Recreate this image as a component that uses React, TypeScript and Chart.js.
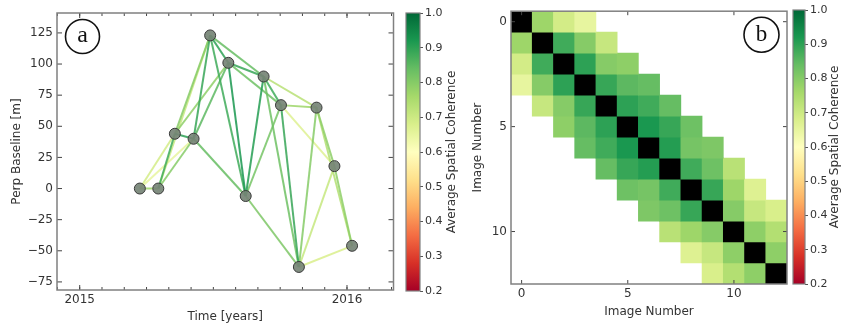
import React, { useEffect, useRef } from 'react';
import { Chart, registerables } from 'chart.js';

Chart.register(...registerables);

// ---------------- data ----------------
const imageDates = [2015.225, 2015.294, 2015.356, 2015.426, 2015.488, 2015.556, 2015.621, 2015.688, 2015.753, 2015.82, 2015.886, 2015.953, 2016.019];
const perpBaseline = [0, 0, 44, 40, 123, 101, -6, 90, 67, -63, 65, 18, -46];
// coherence between image i and image i+1, i+2, i+3
const coherenceLag1 = [0.77, 0.88, 0.9, 0.89, 0.9, 0.92, 0.91, 0.88, 0.89, 0.8, 0.79, 0.79];
const coherenceLag2 = [0.69, 0.8, 0.8, 0.85, 0.88, 0.89, 0.82, 0.83, 0.77, 0.71, 0.74];
const coherenceLag3 = [0.65, 0.71, 0.79, 0.84, 0.84, 0.83, 0.81, 0.73, 0.67, 0.68];
const timeTicks = [2015, 2016];
const baselineTicks = [-75, -50, -25, 0, 25, 50, 75, 100, 125];
const imageTicks = [0, 5, 10];
const coherenceTicks = [0.2, 0.3, 0.4, 0.5, 0.6, 0.7, 0.8, 0.9, 1.0];
const coherenceMin = 0.2;
const coherenceMax = 1.0;
const monthsPerYear = 12;

const RDYLGN = ['#a50026', '#d73027', '#f46d43', '#fdae61', '#fee08b', '#ffffbf', '#d9ef8b', '#a6d96a', '#66bd63', '#1a9850', '#006837'];

function hexRgb(h: string) {
  return [parseInt(h.slice(1, 3), 16), parseInt(h.slice(3, 5), 16), parseInt(h.slice(5, 7), 16)];
}
function cmap(v: number, alpha = 1) {
  const t = Math.min(1, Math.max(0, (v - coherenceMin) / (coherenceMax - coherenceMin)));
  const p = t * (RDYLGN.length - 1);
  const i = Math.min(RDYLGN.length - 2, Math.floor(p));
  const f = p - i;
  const a = hexRgb(RDYLGN[i]);
  const b = hexRgb(RDYLGN[i + 1]);
  const c = a.map((x, k) => Math.round(x + (b[k] - x) * f));
  return `rgba(${c[0]},${c[1]},${c[2]},${alpha})`;
}
function pairs() {
  const out: { i: number; j: number; v: number }[] = [];
  [coherenceLag1, coherenceLag2, coherenceLag3].forEach((arr, k) =>
    arr.forEach((v, i) => out.push({ i, j: i + k + 1, v }))
  );
  return out;
}
function pairValue(r: number, c: number): number | null {
  if (r === c) return 1;
  const i = Math.min(r, c);
  const lag = Math.abs(r - c);
  const arr = [coherenceLag1, coherenceLag2, coherenceLag3][lag - 1];
  if (!arr) return null;
  return arr[i] ?? null;
}

const FONT = "'DejaVu Sans', Arial, sans-serif";
const TEXT = '#333333';
const minus = (v: number) => String(v).replace('-', '\u2212');

const framePlugin = {
  id: 'frame',
  afterDraw(chart: any, _args: any, o: any) {
    if (!o || !o.enabled) return;
    const { ctx, chartArea: a } = chart;
    ctx.save();
    const seg = (x1: number, y1: number, x2: number, y2: number) => {
      ctx.beginPath();
      ctx.moveTo(x1, y1);
      ctx.lineTo(x2, y2);
      ctx.stroke();
    };
    if (o.inwardTicks) {
      ctx.strokeStyle = '#444';
      ctx.lineWidth = 1;
      const xs = chart.scales.x;
      const ys = chart.scales.y;
      for (const t of xs.ticks) {
        const p = xs.getPixelForValue(t.value);
        seg(p, a.bottom, p, a.bottom - o.major);
        seg(p, a.top, p, a.top + o.major);
      }
      if (o.minorStepX) {
        for (let k = Math.ceil(xs.min / o.minorStepX); k * o.minorStepX <= xs.max; k++) {
          const p = xs.getPixelForValue(k * o.minorStepX);
          seg(p, a.bottom, p, a.bottom - o.minor);
          seg(p, a.top, p, a.top + o.minor);
        }
      }
      for (const t of ys.ticks) {
        const p = ys.getPixelForValue(t.value);
        seg(a.left, p, a.left + o.major, p);
        seg(a.right, p, a.right - o.major, p);
      }
    }
    ctx.strokeStyle = o.frameColor || '#808080';
    ctx.lineWidth = o.frameWidth || 1.5;
    ctx.strokeRect(a.left, a.top, a.right - a.left, a.bottom - a.top);
    if (o.badge) {
      const cx = o.badge.fromRight ? a.right - o.badge.dx : a.left + o.badge.dx;
      const cy = a.top + o.badge.dy;
      ctx.beginPath();
      ctx.arc(cx, cy, o.badge.r, 0, Math.PI * 2);
      ctx.fillStyle = '#fff';
      ctx.fill();
      ctx.lineWidth = 1.6;
      ctx.strokeStyle = '#111';
      ctx.stroke();
      ctx.fillStyle = '#111';
      ctx.font = `${o.badge.size}px 'Liberation Serif', 'DejaVu Serif', serif`;
      ctx.textAlign = 'center';
      ctx.textBaseline = 'middle';
      ctx.fillText(o.badge.text, cx, cy + o.badge.ty);
    }
    if (o.sideTitle) {
      ctx.fillStyle = TEXT;
      ctx.font = `12px ${FONT}`;
      ctx.textAlign = 'center';
      ctx.textBaseline = 'middle';
      ctx.translate(a.right + o.sideTitle.dx, (a.top + a.bottom) / 2);
      ctx.rotate(-Math.PI / 2);
      ctx.fillText(o.sideTitle.text, 0, 0);
    }
    ctx.restore();
  },
};

function setTicks(list: number[]) {
  return (s: any) => {
    s.ticks = list.map((value) => ({ value }));
  };
}

function useChart(ref: React.RefObject<HTMLCanvasElement | null>, make: () => any) {
  useEffect(() => {
    if (!ref.current) return;
    const chart = new Chart(ref.current, make());
    return () => chart.destroy();
  }, []);
}

function networkConfig() {
  const edges = pairs().map((p) => ({
    data: [
      { x: imageDates[p.i], y: perpBaseline[p.i] },
      { x: imageDates[p.j], y: perpBaseline[p.j] },
    ],
    showLine: true,
    borderColor: cmap(p.v, 0.85),
    borderWidth: 2,
    pointRadius: 0,
    order: 10 - p.v,
  }));
  const nodes = {
    data: imageDates.map((x, i) => ({ x, y: perpBaseline[i] })),
    showLine: false,
    pointRadius: 5.5,
    backgroundColor: 'rgba(118,132,118,0.92)',
    borderColor: '#3a3a3a',
    borderWidth: 1,
    order: 0,
  };
  return {
    type: 'scatter',
    data: { datasets: [nodes, ...edges] },
    plugins: [framePlugin],
    options: {
      animation: false,
      responsive: false,
      events: [],
      layout: { padding: { left: 0, top: 13, right: 3, bottom: 0 } },
      plugins: {
        legend: { display: false },
        tooltip: { enabled: false },
        frame: {
          enabled: true,
          inwardTicks: true,
          major: 5,
          minor: 3,
          minorStepX: 1 / monthsPerYear,
          badge: { text: 'a', dx: 25.5, dy: 23.5, r: 17, size: 24, ty: -1 },
        },
      },
      scales: {
        x: {
          type: 'linear',
          min: 2014.915,
          max: 2016.174,
          afterBuildTicks: setTicks(timeTicks),
          afterFit: (s: any) => { s.height = 42; },
          grid: { display: false, drawTicks: false },
          border: { display: false },
          ticks: { padding: 3, color: TEXT, font: { size: 12, family: FONT }, callback: (v: any) => String(v) },
          title: { display: true, text: 'Time [years]', color: TEXT, font: { size: 12, family: FONT }, padding: { bottom: 8, top: 0 } },
        },
        y: {
          type: 'linear',
          min: -81.5,
          max: 141,
          afterBuildTicks: setTicks(baselineTicks),
          afterFit: (s: any) => { s.width = 57; },
          grid: { display: false, drawTicks: false },
          border: { display: false },
          ticks: { padding: 4, color: TEXT, font: { size: 12, family: FONT }, callback: (v: any) => minus(v) },
          title: { display: true, text: 'Perp Baseline [m]', color: TEXT, font: { size: 12, family: FONT }, padding: { top: 10, bottom: 0 } },
        },
      },
    },
  };
}

function matrixConfig() {
  const n = imageDates.length;
  const datasets = [] as any[];
  for (let r = 0; r < n; r++) {
    const pts: any[] = [];
    const cols: string[] = [];
    for (let c = 0; c < n; c++) {
      const v = pairValue(r, c);
      if (v === null) continue;
      pts.push({ x: c, y: [r - 0.5, r + 0.5] });
      cols.push(r === c ? '#000000' : cmap(v));
    }
    datasets.push({
      data: pts,
      backgroundColor: cols,
      borderWidth: 0,
      barPercentage: 1,
      categoryPercentage: 1,
      grouped: false,
    });
  }
  return {
    type: 'bar',
    data: { datasets },
    plugins: [framePlugin],
    options: {
      animation: false,
      responsive: false,
      events: [],
      layout: { padding: { left: 0, top: 10, right: 3, bottom: 0 } },
      plugins: {
        legend: { display: false },
        tooltip: { enabled: false },
        frame: {
          enabled: true,
          inwardTicks: true,
          major: 4,
          minor: 0,
          badge: { text: 'b', dx: 25.5, dy: 23.5, r: 17.5, size: 23, ty: 0, fromRight: true },
        },
      },
      scales: {
        x: {
          type: 'linear',
          min: -0.5,
          max: 12.5,
          offset: false,
          afterBuildTicks: setTicks(imageTicks),
          afterFit: (s: any) => { s.height = 48; },
          grid: { display: false, drawTicks: false },
          border: { display: false },
          ticks: { padding: 3, color: TEXT, font: { size: 12, family: FONT } },
          title: { display: true, text: 'Image Number', color: TEXT, font: { size: 12, family: FONT }, padding: { bottom: 13, top: 0 } },
        },
        y: {
          type: 'linear',
          min: -0.5,
          max: 12.5,
          reverse: true,
          afterBuildTicks: setTicks(imageTicks),
          afterFit: (s: any) => { s.width = 71; },
          grid: { display: false, drawTicks: false },
          border: { display: false },
          ticks: { padding: 4, color: TEXT, font: { size: 12, family: FONT } },
          title: { display: true, text: 'Image Number', color: TEXT, font: { size: 12, family: FONT }, padding: { top: 31, bottom: 0 } },
        },
      },
    },
  };
}

function colorbarConfig(pad: any, axisWidth: number, titleDx: number) {
  return {
    type: 'bar',
    data: {
      labels: ['coherence'],
      datasets: [
        {
          data: [[coherenceMin, coherenceMax]],
          borderWidth: 0,
          barPercentage: 1,
          categoryPercentage: 1,
          backgroundColor: (c: any) => {
            const chart = c.chart;
            const ys = chart.scales && chart.scales.y;
            if (!chart.chartArea || !ys) return cmap(0.6);
            const g = chart.ctx.createLinearGradient(0, ys.getPixelForValue(coherenceMin), 0, ys.getPixelForValue(coherenceMax));
            RDYLGN.forEach((col, i) => g.addColorStop(i / (RDYLGN.length - 1), col));
            return g;
          },
        },
      ],
    },
    plugins: [framePlugin],
    options: {
      animation: false,
      responsive: false,
      events: [],
      layout: { padding: pad },
      plugins: {
        legend: { display: false },
        tooltip: { enabled: false },
        frame: { enabled: true, frameColor: '#808080', frameWidth: 1.2, sideTitle: { text: 'Average Spatial Coherence', dx: titleDx } },
      },
      scales: {
        x: { display: false },
        y: {
          position: 'right',
          min: coherenceMin,
          max: coherenceMax,
          afterBuildTicks: setTicks(coherenceTicks),
          afterFit: (s: any) => { s.width = axisWidth; },
          grid: { display: true, drawOnChartArea: false, drawTicks: true, tickLength: 3, color: '#555' },
          border: { display: false },
          ticks: { padding: 2, color: TEXT, font: { size: 11, family: FONT }, callback: (v: any) => Number(v).toFixed(1) },
        },
      },
    },
  };
}

export default function App() {
  const aRef = useRef<HTMLCanvasElement>(null);
  const cbaRef = useRef<HTMLCanvasElement>(null);
  const bRef = useRef<HTMLCanvasElement>(null);
  const cbbRef = useRef<HTMLCanvasElement>(null);

  useChart(aRef, networkConfig);
  useChart(bRef, matrixConfig);
  useChart(cbaRef, () => colorbarConfig({ left: 6, top: 13, bottom: 41, right: 0 }, 52, 32));
  useChart(cbbRef, () => colorbarConfig({ left: 7, top: 10, bottom: 48, right: 0 }, 37, 30));

  const abs = (left: number, width: number): React.CSSProperties => ({
    position: 'absolute',
    left,
    top: 0,
    width,
    height: 332,
    display: 'block',
  });

  return (
    <div style={{ position: 'fixed', left: 0, top: 0, width: 842, height: 332, background: '#fff', overflow: 'hidden' }}>
      <canvas ref={aRef} width={400} height={332} style={abs(0, 400)} />
      <canvas ref={cbaRef} width={72} height={332} style={abs(400, 72)} />
      <canvas ref={bRef} width={350} height={332} style={abs(440, 350)} />
      <canvas ref={cbbRef} width={56} height={332} style={abs(786, 56)} />
    </div>
  );
}
